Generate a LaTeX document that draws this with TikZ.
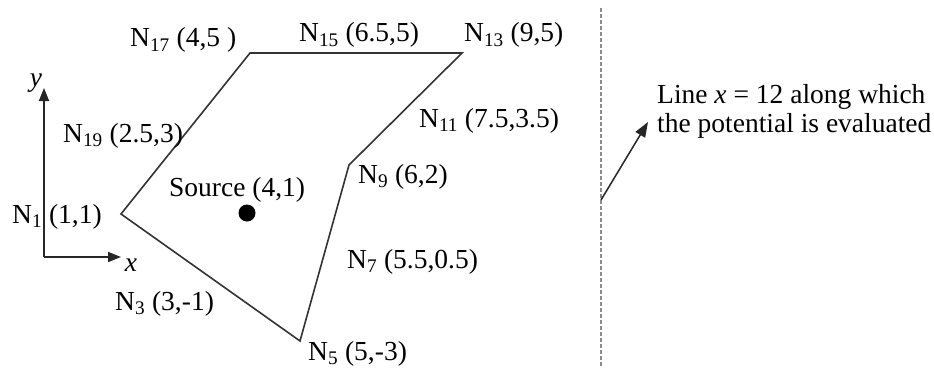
\documentclass[tikz,border=0pt]{standalone}
\usepackage{fontspec}
\setmainfont{Liberation Serif}
\usetikzlibrary{arrows.meta}
\begin{document}
\begin{tikzpicture}[x=1pt,y=-1pt,
  lbl/.style={anchor=base west,inner sep=0pt,font=\fontsize{27.5}{31}\selectfont},
  edge/.style={draw=black!80,line width=1.6pt,line join=miter},
  axis/.style={draw=black!85,line width=1.8pt,-{Triangle[length=13pt,width=10pt]}}]
\useasboundingbox (0,0) rectangle (934,369);
% polygon vertices
\coordinate (v1) at (121,214);
\coordinate (v5) at (300,341);
\coordinate (v9) at (349,165);
\coordinate (v13) at (462,53);
\coordinate (v17) at (250,53);
\draw[edge] (v1) -- (v5) -- (v9) -- (v13) -- (v17) -- cycle;
% source
\node[circle,fill=black,inner sep=0pt,minimum size=17pt] (src) at (247,213) {};
% axes
\coordinate (o) at (44,257);
\coordinate (ytip) at (44,88);
\coordinate (xtip) at (121,257);
\draw[axis] (o) -- (ytip);
\draw[axis] (o) -- (xtip);
\node[lbl,anchor=center] (ylab) at (36,83) {\itshape y};
\node[lbl,anchor=center] (xlab) at (131,265) {\itshape x};
% labels
\node[lbl] (n17) at (130,47) {N\textsubscript{17} (4,5 )};
\node[lbl] (n15) at (299,42) {N\textsubscript{15} (6.5,5)};
\node[lbl] (n13) at (464,42) {N\textsubscript{13} (9,5)};
\node[lbl] (n11) at (419,127) {N\textsubscript{11} (7.5,3.5)};
\node[lbl] (n9) at (358,183) {N\textsubscript{9} (6,2)};
\node[lbl] (n19) at (63,142) {N\textsubscript{19} (2.5,3)};
\node[lbl] (n1) at (12,223) {N\textsubscript{1} (1,1)};
\node[lbl] (srclab) at (169,196) {Source (4,1)};
\node[lbl] (n7) at (347,268) {N\textsubscript{7} (5.5,0.5)};
\node[lbl] (n3) at (115,310) {N\textsubscript{3} (3,-1)};
\node[lbl] (n5) at (308,360) {N\textsubscript{5} (5,-3)};
% evaluation line
\coordinate (dtop) at (601,8);
\coordinate (dbot) at (601,366);
\draw[draw=black!45,line width=1.8pt,dash pattern=on 4pt off 2pt] (dtop) -- (dbot);
\node[lbl] (note1) at (657,103) {Line \textit{x} = 12 along which};
\node[lbl] (note2) at (657,132) {the potential is evaluated};
\coordinate (astart) at (601,200);
\coordinate (atip) at (648,122);
\draw[draw=black!85,line width=1.5pt,-{Triangle[length=15pt,width=11pt]}] (astart) -- (atip);
\end{tikzpicture}
\end{document}
